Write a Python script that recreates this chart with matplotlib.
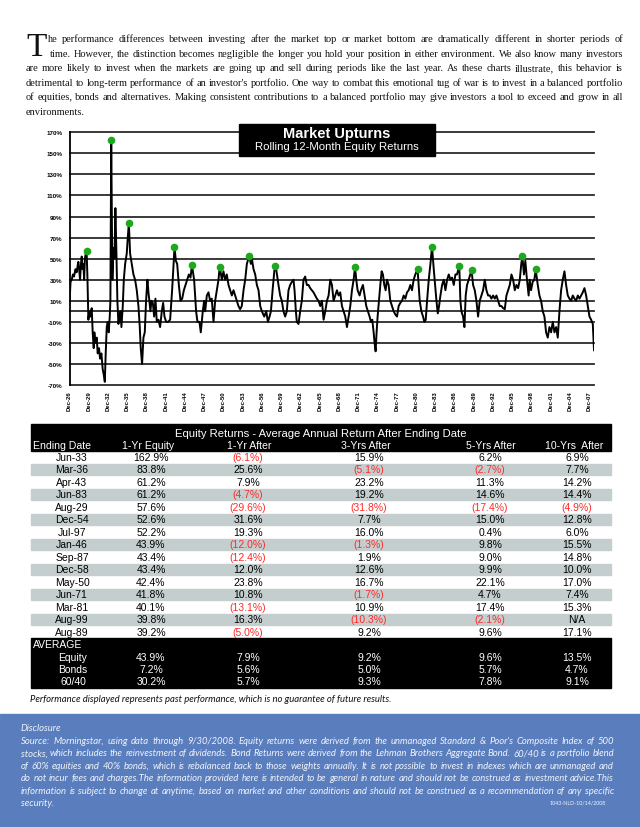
import matplotlib
matplotlib.use('Agg')
import matplotlib.pyplot as plt
from matplotlib.patches import Rectangle

W, H = 640, 828

# ---- text ----
intro_lines = [
    "he performance differences between investing after the market top or market bottom are dramatically different in shorter periods of",
    "time. However, the distinction becomes negligible the longer you hold your position in either environment. We also know many investors",
    "are more likely to invest when the markets are going up and sell during periods like the last year. As these charts illustrate, this behavior is",
    "detrimental to long-term performance of an investor's portfolio. One way to combat this emotional tug of war is to invest in a balanced portfolio",
    "of equities, bonds and alternatives. Making consistent contributions to a balanced portfolio may give investors a tool to exceed and grow in all",
]
intro_last = "environments."

disclosure_lines = [
    "Source: Morningstar, using data through 9/30/2008. Equity returns were derived from the unmanaged Standard & Poor's Composite Index of 500",
    "stocks, which includes the reinvestment of dividends. Bond Returns were derived from the Lehman Brothers Aggregate Bond. 60/40 is a portfolio blend",
    "of 60% equities and 40% bonds, which is rebalanced back to those weights annually. It is not possible to invest in indexes which are unmanaged and",
    "do not incur fees and charges.The information provided here is intended to be general in nature and should not be construed as investment advice.This",
    "information is subject to change at anytime, based on market and other conditions and should not be construed as a recommendation of any specific",
]
disclosure_last = "security."

# ---- rolling 12-month equity returns ----
ret_year = [
    1926.92, 1927.08, 1927.26, 1927.45, 1927.62, 1927.85, 1928.04, 1928.20, 1928.30, 1928.45,
    1928.56, 1928.70, 1928.82, 1928.95, 1929.08, 1929.20, 1929.32, 1929.45, 1929.58, 1929.70,
    1929.86, 1930.01, 1930.15, 1930.27, 1930.38, 1930.53, 1930.69, 1930.79, 1930.95, 1931.16,
    1931.31, 1931.52, 1931.68, 1931.89, 1932.09, 1932.25, 1932.42, 1932.56, 1932.72, 1932.87,
    1933.03, 1933.19, 1933.29, 1933.42, 1933.60, 1933.76, 1933.92, 1934.07, 1934.23, 1934.38,
    1934.54, 1934.70, 1934.86, 1935.01, 1935.22, 1935.38, 1935.59, 1935.84, 1936.00, 1936.17,
    1936.36, 1936.62, 1936.88, 1937.14, 1937.40, 1937.66, 1937.87, 1938.02, 1938.23, 1938.44,
    1938.65, 1938.85, 1939.06, 1939.22, 1939.37, 1939.53, 1939.69, 1939.90, 1940.11, 1940.31,
    1940.52, 1940.78, 1941.04, 1941.30, 1941.51, 1941.72, 1941.98, 1942.29, 1942.60, 1942.91,
    1943.10, 1943.29, 1943.49, 1943.70, 1943.96, 1944.22, 1944.48, 1944.74, 1945.00, 1945.26,
    1945.52, 1945.78, 1946.00, 1946.34, 1946.65, 1946.86, 1947.17, 1947.38, 1947.69, 1947.90,
    1948.06, 1948.32, 1948.58, 1948.83, 1949.09, 1949.36, 1949.62, 1949.88, 1950.14, 1950.33,
    1950.66, 1950.91, 1951.17, 1951.43, 1951.70, 1951.96, 1952.22, 1952.48, 1952.74, 1952.99,
    1953.25, 1953.51, 1953.77, 1954.04, 1954.30, 1954.56, 1954.92, 1955.18, 1955.34, 1955.60,
    1955.86, 1956.12, 1956.38, 1956.64, 1956.90, 1957.27, 1957.58, 1957.84, 1958.10, 1958.31,
    1958.57, 1958.92, 1959.13, 1959.49, 1959.75, 1960.01, 1960.27, 1960.53, 1960.79, 1961.05,
    1961.31, 1961.57, 1961.83, 1961.99, 1962.20, 1962.35, 1962.61, 1962.87, 1963.13, 1963.39,
    1963.65, 1963.91, 1964.17, 1964.43, 1964.69, 1964.95, 1965.21, 1965.47, 1965.73, 1966.00,
    1966.26, 1966.52, 1966.78, 1967.04, 1967.30, 1967.56, 1967.82, 1968.08, 1968.34, 1968.60,
    1968.86, 1969.12, 1969.38, 1969.64, 1969.90, 1970.16, 1970.42, 1970.68, 1970.94, 1971.20,
    1971.42, 1971.61, 1971.82, 1972.13, 1972.34, 1972.65, 1972.91, 1973.17, 1973.43, 1973.69,
    1973.90, 1974.11, 1974.32, 1974.47, 1974.63, 1974.78, 1974.94, 1975.15, 1975.36, 1975.57,
    1975.77, 1975.98, 1976.19, 1976.40, 1976.66, 1976.92, 1977.18, 1977.44, 1977.70, 1977.96,
    1978.22, 1978.48, 1978.74, 1979.00, 1979.26, 1979.52, 1979.78, 1980.04, 1980.30, 1980.56,
    1980.82, 1981.17, 1981.33, 1981.50, 1981.76, 1982.02, 1982.23, 1982.44, 1982.65, 1982.91,
    1983.17, 1983.42, 1983.69, 1983.90, 1984.11, 1984.32, 1984.52, 1984.73, 1984.99, 1985.25,
    1985.51, 1985.77, 1986.03, 1986.29, 1986.55, 1986.81, 1987.07, 1987.32, 1987.67, 1987.84,
    1988.00, 1988.26, 1988.47, 1988.67, 1988.88, 1989.14, 1989.58, 1989.82, 1990.08, 1990.34,
    1990.60, 1990.86, 1991.12, 1991.38, 1991.64, 1991.90, 1992.16, 1992.42, 1992.68, 1992.94,
    1993.20, 1993.46, 1993.72, 1993.98, 1994.24, 1994.50, 1994.76, 1995.02, 1995.28, 1995.54,
    1995.80, 1996.06, 1996.32, 1996.58, 1996.84, 1997.10, 1997.33, 1997.50, 1997.75, 1997.96,
    1998.22, 1998.48, 1998.64, 1998.85, 1999.11, 1999.37, 1999.58, 1999.90, 2000.16, 2000.42,
    2000.68, 2000.94, 2001.20, 2001.46, 2001.72, 2001.98, 2002.24, 2002.50, 2002.76, 2003.02,
    2003.28, 2003.54, 2003.80, 2004.06, 2004.32, 2004.58, 2004.84, 2005.10, 2005.36, 2005.62,
    2005.88, 2006.14, 2006.40, 2006.66, 2006.92, 2007.18, 2007.44, 2007.70, 2007.96, 2008.22,
    2008.48, 2008.58, 2008.67,
]
ret_pct = [
    8, 28, 30, 35, 33, 40, 37, 44, 47, 38,
    30, 45, 52, 40, 45, 30, 50, 55, 57.6, 35,
    -8, 0, -5, 0, 3, -20, -35, -20, -30, -25,
    -40, -35, -45, -40, -55, -60, -67, -40, -15, -10,
    -20, -5, 10, 162.9, 30, 60, 50, 98, 55, 10,
    -12, -5, 0, -15, 5, 30, 45, 55, 70, 83.8,
    55, 45, 35, 30, 20, 5, -15, -35, -50, -25,
    -20, 10, 30, 18, 10, 0, 10, 8, -5, 12,
    -10, -8, -15, 0, 8, -5, -10, -10, -8, 20,
    40, 61.2, 48, 45, 25, 10, 12, 20, 25, 30,
    35, 32, 43.9, 30, 0, -10, -10, -20, 0, 10,
    0, 15, 18, 10, 12, -10, 10, 20, 30, 42.4,
    30, 38, 30, 35, 25, 20, 15, 20, 15, 10,
    5, 2, 5, 20, 30, 45, 52.6, 45, 50, 40,
    35, 25, 20, 5, 0, -5, 0, -10, -5, 0,
    20, 43.4, 40, 25, 15, 10, 0, -5, 0, 20,
    25, 28, 30, 20, 0, -10, -12, 0, 10, 30,
    33, 25, 25, 22, 20, 18, 15, 12, 10, 5,
    10, -8, 0, 10, 15, 30, 25, 10, 15, 20,
    15, 18, 5, 0, -5, -15, -5, 5, 20, 30,
    41.8, 30, 20, 15, 20, 25, 15, 5, 0, -5,
    -10, -8, -20, -30, -38, -20, -5, 10, 25, 38,
    35, 25, 20, 30, 25, 10, 5, 0, -3, -5,
    5, 8, 10, 15, 12, 18, 20, 25, 20, 30,
    35, 40.1, 25, 10, 0, -5, -10, -8, 10, 30,
    45, 61.2, 40, 25, 10, -2, 5, 15, 25, 30,
    20, 30, 35, 30, 32, 25, 35, 35, 43.4, 10,
    0, -5, -15, 15, 25, 30, 39.2, 25, 20, 10,
    -5, 10, 15, 20, 30, 20, 15, 15, 12, 15,
    12, 15, 10, 5, 5, 3, 2, 15, 20, 25,
    35, 30, 20, 25, 22, 30, 45, 52.2, 35, 48,
    30, 15, 30, 20, 28, 30, 39.8, 25, 15, 10,
    0, -5, -20, -25, -15, -20, -10, -20, -15, -25,
    0, 20, 30, 38, 25, 15, 12, 10, 15, 12,
    10, 15, 12, 15, 18, 22, 15, 5, -5, -8,
    -12, -25, -37,
]

tick_years = list(range(1926, 2008, 3))
y_ticks = list(range(-70, 171, 20))

# ---- table ----
table_title = "Equity Returns - Average Annual Return After Ending Date"
col_heads = ["1-Yr Equity", "1-Yr After", "3-Yrs After", "5-Yrs After", "10-Yrs  After"]
end_dates = ["Jun-33", "Mar-36", "Apr-43", "Jun-83", "Aug-29", "Dec-54", "Jul-97", "Jan-46",
             "Sep-87", "Dec-58", "May-50", "Jun-71", "Mar-81", "Aug-99", "Aug-89"]
eq_1yr = [162.9, 83.8, 61.2, 61.2, 57.6, 52.6, 52.2, 43.9, 43.4, 43.4, 42.4, 41.8, 40.1, 39.8, 39.2]
after_1 = [-6.1, 25.6, 7.9, -4.7, -29.6, 31.6, 19.3, -12.0, -12.4, 12.0, 23.8, 10.8, -13.1, 16.3, -5.0]
after_3 = [15.9, -5.1, 23.2, 19.2, -31.8, 7.7, 16.0, -1.3, 1.9, 12.6, 16.7, -1.7, 10.9, -10.3, 9.2]
after_5 = [6.2, -2.7, 11.3, 14.6, -17.4, 15.0, 0.4, 9.8, 9.0, 9.9, 22.1, 4.7, 17.4, -2.1, 9.6]
after_10 = [6.9, 7.7, 14.2, 14.4, -4.9, 12.8, 6.0, 15.5, 14.8, 10.0, 17.0, 7.4, 15.3, None, 17.1]

avg_names = ["Equity", "Bonds", "60/40"]
avg_equity = [43.9, 7.9, 9.2, 9.6, 13.5]
avg_bonds = [7.2, 5.6, 5.0, 5.7, 4.7]
avg_6040 = [30.2, 5.7, 9.3, 7.8, 9.1]

MONTHS = ["Jan", "Feb", "Mar", "Apr", "May", "Jun", "Jul", "Aug", "Sep", "Oct", "Nov", "Dec"]


def to_year(label):
    mon, yy = label.split("-")
    return 1900 + int(yy) + MONTHS.index(mon) / 12


def fmt(v):
    if v is None:
        return "N/A"
    if v < 0:
        return f"({-v:.1f}%)"
    return f"{v:.1f}%"


SANS = ["Liberation Sans", "DejaVu Sans"]
SERIF = ["Liberation Serif", "DejaVu Serif"]
HUMAN = ["Lato", "DejaVu Sans"]

fig = plt.figure(figsize=(W / 100, H / 100), dpi=100)
fig.patch.set_facecolor("white")

# ---- chart ----
ax = fig.add_axes([69.5 / W, 1 - 386 / H, (594 - 69.5) / W, (386 - 133.3) / H])
for v in y_ticks + [0]:
    ax.axhline(v, color="#2a2a2a", lw=1.3, zorder=1, clip_on=False)
ax.plot(ret_year, ret_pct, color="black", lw=1.4, zorder=3)
ax.plot([to_year(d) for d in end_dates], eq_1yr, "o", color="#1ea81e", ms=5.5, mec="none", zorder=4)
ax.set_xlim(1926 + 11 / 12, 2008 + 8 / 12)
ax.set_ylim(-70, 170)
ax.set_yticks(y_ticks)
ax.set_yticklabels([f"{v}%" for v in y_ticks], fontsize=4.5, fontweight="bold", family=SANS)
ax.set_xticks([y + 11 / 12 for y in tick_years])
ax.set_xticklabels([f"Dec-{y % 100:02d}" for y in tick_years], rotation=90,
                   fontsize=4.3, fontweight="bold", family=SANS)
ax.tick_params(axis="y", length=0, pad=5)
ax.tick_params(axis="x", length=0, pad=4)
for s in ["top", "right", "bottom"]:
    ax.spines[s].set_visible(False)
ax.spines["left"].set_linewidth(1.3)
ax.set_facecolor("none")

# ---- page overlay in pixel coordinates ----
pg = fig.add_axes([0, 0, 1, 1], zorder=5)
pg.set_xlim(0, W)
pg.set_ylim(H, 0)
pg.axis("off")
renderer = fig.canvas.get_renderer()


def word_widths(words, size, **kw):
    objs = [pg.text(0, 0, w, fontsize=size, **kw) for w in words]
    widths = [o.get_window_extent(renderer).width for o in objs]
    for o in objs:
        o.remove()
    return widths


def para_size(lines, starts, x1, size, **kw):
    # largest size (from the start value down) where every line keeps a normal word gap
    while size > 4:
        ok = True
        for line, x0 in zip(lines, starts):
            words = line.split()
            gap = (x1 - x0 - sum(word_widths(words, size, **kw))) / (len(words) - 1)
            if gap < size * 0.3:
                ok = False
                break
        if ok:
            return size
        size *= 0.98
    return size


def justify(text, x0, x1, y, size, **kw):
    words = text.split()
    widths = word_widths(words, size, **kw)
    gap = (x1 - x0 - sum(widths)) / (len(words) - 1)
    x = x0
    for w, wd in zip(words, widths):
        pg.text(x, y, w, fontsize=size, va="baseline", ha="left", **kw)
        x += wd + gap


def fit_text(x, y, s, width, size, **kw):
    t = pg.text(x, y, s, fontsize=size, **kw)
    w = t.get_window_extent(renderer).width
    t.set_fontsize(size * width / w)
    return t


# intro paragraph with drop cap
intro_kw = dict(family=SERIF, color="#111111")
intro_x0 = [48, 50, 26, 26, 26]
s_intro = para_size(intro_lines, intro_x0, 623, 8.6, **intro_kw)
pg.text(26, 56.5, "T", fontsize=24, va="baseline", ha="left", **intro_kw)
for i, line in enumerate(intro_lines):
    justify(line, intro_x0[i], 623, 42 + 14.6 * i, s_intro, **intro_kw)
pg.text(26, 42 + 14.6 * 5, intro_last, fontsize=s_intro, va="baseline", **intro_kw)

# chart title box
pg.add_patch(Rectangle((239, 125), 196, 32, color="black", zorder=2))
pg.text(337, 134, "Market Upturns", color="white", fontsize=10.5, fontweight="bold",
        family=SANS, ha="center", va="center", zorder=3)
pg.text(337, 147.5, "Rolling 12-Month Equity Returns", color="white", fontsize=8.2,
        family=SANS, ha="center", va="center", zorder=3)

# table
tx0, tx1 = 31, 611
col_x = [151, 248, 369, 490, 577]
head_x = [148, 249, 366, 491, 574]
pg.add_patch(Rectangle((tx0, 425), tx1 - tx0, 26.5, color="black"))
pg.text(321, 434, table_title, color="white", fontsize=8.1, family=SANS, ha="center", va="center")
pg.text(33, 446, "Ending Date", color="white", fontsize=7.6, family=SANS, ha="left", va="center")
for x, h in zip(head_x, col_heads):
    pg.text(x, 446, h, color="white", fontsize=7.6, family=SANS, ha="center", va="center")

rows = list(zip(eq_1yr, after_1, after_3, after_5, after_10))
for i, (d, vals) in enumerate(zip(end_dates, rows)):
    y = 458 + 12.5 * i
    if i % 2 == 1:
        pg.add_patch(Rectangle((tx0, y - 5.8), tx1 - tx0, 11.6, color="#c5cece"))
    pg.text(72, y, d, fontsize=7.5, family=SANS, ha="center", va="center")
    for x, v in zip(col_x, vals):
        c = "#ff2a2a" if (v is not None and v < 0) else "black"
        pg.text(x, y, fmt(v), fontsize=7.5, family=SANS, ha="center", va="center", color=c)

pg.add_patch(Rectangle((tx0, 638.5), tx1 - tx0, 50, color="black"))
pg.text(33, 645, "AVERAGE", color="white", fontsize=7.5, family=SANS, ha="left", va="center")
for j, (name, vals) in enumerate(zip(avg_names, [avg_equity, avg_bonds, avg_6040])):
    y = 658 + 12.2 * j
    pg.text(73, y, name, color="white", fontsize=7.5, family=SANS, ha="center", va="center")
    for x, v in zip(col_x, vals):
        pg.text(x, y, fmt(v), color="white", fontsize=7.5, family=SANS, ha="center", va="center")

fit_text(30, 700, "Performance displayed represents past performance, which is no guarantee of future results.",
         361, 6.5, family=HUMAN, style="italic", va="center", ha="left", color="#111111")

# disclosure box
disc_kw = dict(family=HUMAN, style="italic", color="#eef2fa")
pg.add_patch(Rectangle((0, 715), W, H - 715, color="#5a7ebd"))
s_disc = para_size(disclosure_lines, [21] * 5, 614, 8.4, **disc_kw)
pg.text(21, 731, "Disclosure", fontsize=s_disc, va="baseline", **disc_kw)
for i, line in enumerate(disclosure_lines):
    justify(line, 21, 614, 744 + 12.5 * i, s_disc, **disc_kw)
pg.text(21, 744 + 12.5 * 5, disclosure_last, fontsize=s_disc, va="baseline", **disc_kw)
pg.text(606, 805, "1043-NLD-10/14/2008", fontsize=3.8, family=HUMAN, color="#eef2fa",
        ha="right", va="baseline")

fig.savefig("out.png", dpi=100)
